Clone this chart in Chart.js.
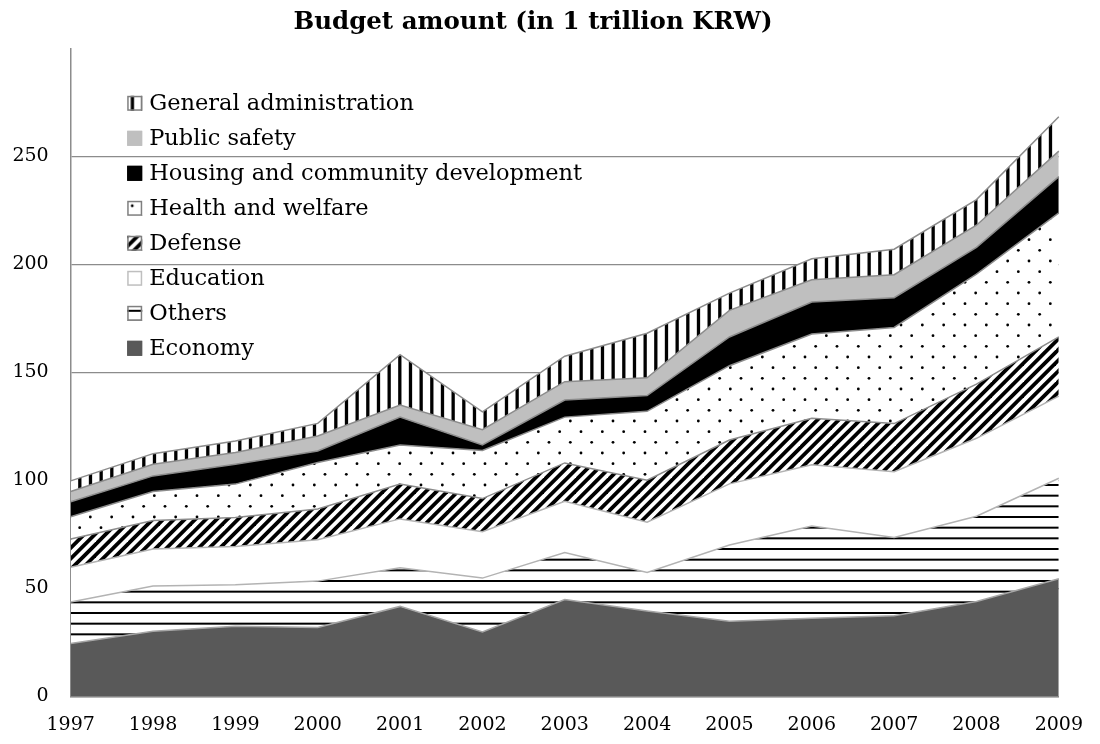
<!DOCTYPE html>
<html>
<head>
<meta charset="utf-8">
<title>Budget amount</title>
<script src="https://cdn.jsdelivr.net/npm/chart.js@4.4.1/dist/chart.umd.min.js"></script>
<style>
  body { margin: 0; background: #fff; }
  #budget { display: block; }
</style>
</head>
<body>
<canvas id="budget" width="1100" height="744"></canvas>
<script>
const years = ['1997', '1998', '1999', '2000', '2001', '2002', '2003', '2004', '2005', '2006', '2007', '2008', '2009'];

// budget per sector, 1 trillion KRW
const economy = [24.5, 30.2, 32.5, 31.9, 41.7, 29.9, 44.9, 39.6, 34.8, 36.2, 37.4, 44.0, 54.5];
const others = [19.2, 20.9, 19.2, 21.5, 17.9, 24.9, 21.7, 17.8, 35.3, 42.7, 36.2, 39.4, 46.5];
const education = [16.1, 17.2, 17.7, 19.2, 22.6, 21.5, 23.8, 23.3, 28.3, 28.3, 30.4, 36.1, 38.0];
const defense = [13.1, 13.1, 13.5, 14.2, 16.1, 15.3, 17.7, 19.4, 20.3, 21.6, 22.3, 25.1, 27.4];
const healthWelfare = [10.3, 13.5, 15.4, 21.5, 18.1, 22.3, 21.2, 31.9, 34.4, 39.0, 44.5, 50.9, 57.4];
const housing = [6.9, 7.2, 9.2, 5.3, 12.9, 2.5, 7.9, 7.3, 13.3, 14.8, 13.8, 12.4, 16.8];
const publicSafety = [4.8, 5.4, 5.4, 7.0, 5.6, 7.1, 8.5, 8.2, 12.3, 10.3, 10.6, 10.2, 11.8];
const generalAdmin = [4.9, 4.9, 5.4, 5.8, 23.3, 8.2, 11.8, 20.6, 8.0, 9.7, 11.8, 11.9, 15.9];

const yTicks = [0, 50, 100, 150, 200, 250];

const serif = "'DejaVu Serif', 'Liberation Serif', serif";
const step = 32 / 3;

// small tiles with a white ground, repeated as fill patterns
function makePattern(size, draw) {
	const tile = document.createElement('canvas');
	tile.width = size;
	tile.height = size;
	const c = tile.getContext('2d');
	c.fillStyle = '#fff';
	c.fillRect(0, 0, size, size);
	c.fillStyle = '#000';
	c.strokeStyle = '#000';
	draw(c);
	return c.createPattern(tile, 'repeat');
}

const verticalStripes = makePattern(32, (c) => {
	for (let k = 0; k < 3; k++) c.fillRect(k * step + 3.5, 0, 3.3, 32);
});

const horizontalStripes = makePattern(32, (c) => {
	for (let k = 0; k < 3; k++) c.fillRect(0, k * step + 4, 32, 2);
});

const diagonalStripes = makePattern(32, (c) => {
	c.lineWidth = 3.8;
	for (let k = -1; k <= 7; k++) {
		const d = k * step;
		c.beginPath();
		c.moveTo(d + 8, -8);
		c.lineTo(d - 40, 40);
		c.stroke();
	}
});

const dots = makePattern(64, (c) => {
	for (let row = 0; row < 6; row++) {
		for (let col = 0; col < 3; col++) {
			const x = col * 2 * step + (row % 2) * step + 5;
			const y = row * step + 5;
			c.beginPath();
			c.arc(x, y, 1.4, 0, Math.PI * 2);
			c.fill();
		}
	}
});

function area(label, data, fill, border, swatchBorder) {
	return {
		label: label,
		data: data,
		backgroundColor: fill,
		borderColor: border,
		borderWidth: 1.5,
		pointRadius: 0,
		pointHoverRadius: 0,
		tension: 0,
		fill: '-1',
		swatchBorder: swatchBorder,
	};
}

const datasets = [
	area('Economy', economy, '#595959', '#a6a6a6', '#595959'),
	area('Others', others, horizontalStripes, '#b3b3b3', '#7f7f7f'),
	area('Education', education, '#ffffff', '#b3b3b3', '#bfbfbf'),
	area('Defense', defense, diagonalStripes, '#8c8c8c', '#7f7f7f'),
	area('Health and welfare', healthWelfare, dots, '#8c8c8c', '#7f7f7f'),
	area('Housing and community development', housing, '#000000', '#8c8c8c', '#000000'),
	area('Public safety', publicSafety, '#bfbfbf', '#8c8c8c', '#bfbfbf'),
	area('General administration', generalAdmin, verticalStripes, '#8c8c8c', '#7f7f7f'),
];
datasets[0].fill = 'origin';

// legend sits inside the plot, top series first
const insideLegend = {
	id: 'insideLegend',
	afterDraw(chart) {
		const { ctx, chartArea } = chart;
		const left = chartArea.left + 56.5;
		const top = chartArea.top + 55;
		ctx.save();
		ctx.font = '22.5px ' + serif;
		ctx.textBaseline = 'middle';
		chart.data.datasets.slice().reverse().forEach((ds, i) => {
			const y = top + i * 35;
			ctx.save();
			ctx.translate(left, y - 7.5);
			ctx.fillStyle = ds.backgroundColor;
			ctx.fillRect(0, 0, 15, 15);
			ctx.restore();
			ctx.lineWidth = 1.5;
			ctx.strokeStyle = ds.swatchBorder;
			ctx.strokeRect(left + 0.75, y - 6.75, 13.5, 13.5);
			ctx.fillStyle = '#000';
			ctx.fillText(ds.label, left + 22, y + 1);
		});
		ctx.restore();
	},
};

new Chart(document.getElementById('budget'), {
	type: 'line',
	data: { labels: years, datasets: datasets },
	plugins: [insideLegend],
	options: {
		responsive: false,
		animation: false,
		devicePixelRatio: 1,
		layout: { padding: { left: 0, right: 34, top: 0, bottom: 0 } },
		plugins: {
			legend: { display: false },
			tooltip: { enabled: false },
			title: {
				display: true,
				text: 'Budget amount (in 1 trillion KRW)',
				color: '#000',
				font: { family: serif, size: 24.5, weight: 'bold' },
				padding: { top: 8, bottom: 10.9 },
			},
			filler: { propagate: false },
		},
		scales: {
			x: {
				offset: false,
				grid: { color: 'transparent', drawTicks: false },
				border: { color: '#8c8c8c', width: 1.5 },
				ticks: {
					color: '#000',
					padding: 17,
					maxRotation: 0,
					autoSkip: false,
					font: { family: serif, size: 19 },
				},
				afterFit: (scale) => { scale.height = 47.5; },
			},
			y: {
				stacked: true,
				min: 0,
				max: 300,
				grid: {
					color: (c) => (yTicks.includes(c.tick.value) ? '#8c8c8c' : 'transparent'),
					lineWidth: 1.2,
					drawTicks: false,
				},
				border: { color: '#8c8c8c', width: 1.5 },
				ticks: {
					stepSize: 50,
					padding: 22,
					color: '#000',
					font: { family: serif, size: 19 },
					callback: (v) => (yTicks.includes(v) ? v : ''),
				},
				afterFit: (scale) => { scale.width = 70.7; },
			},
		},
	},
});
</script>
</body>
</html>
